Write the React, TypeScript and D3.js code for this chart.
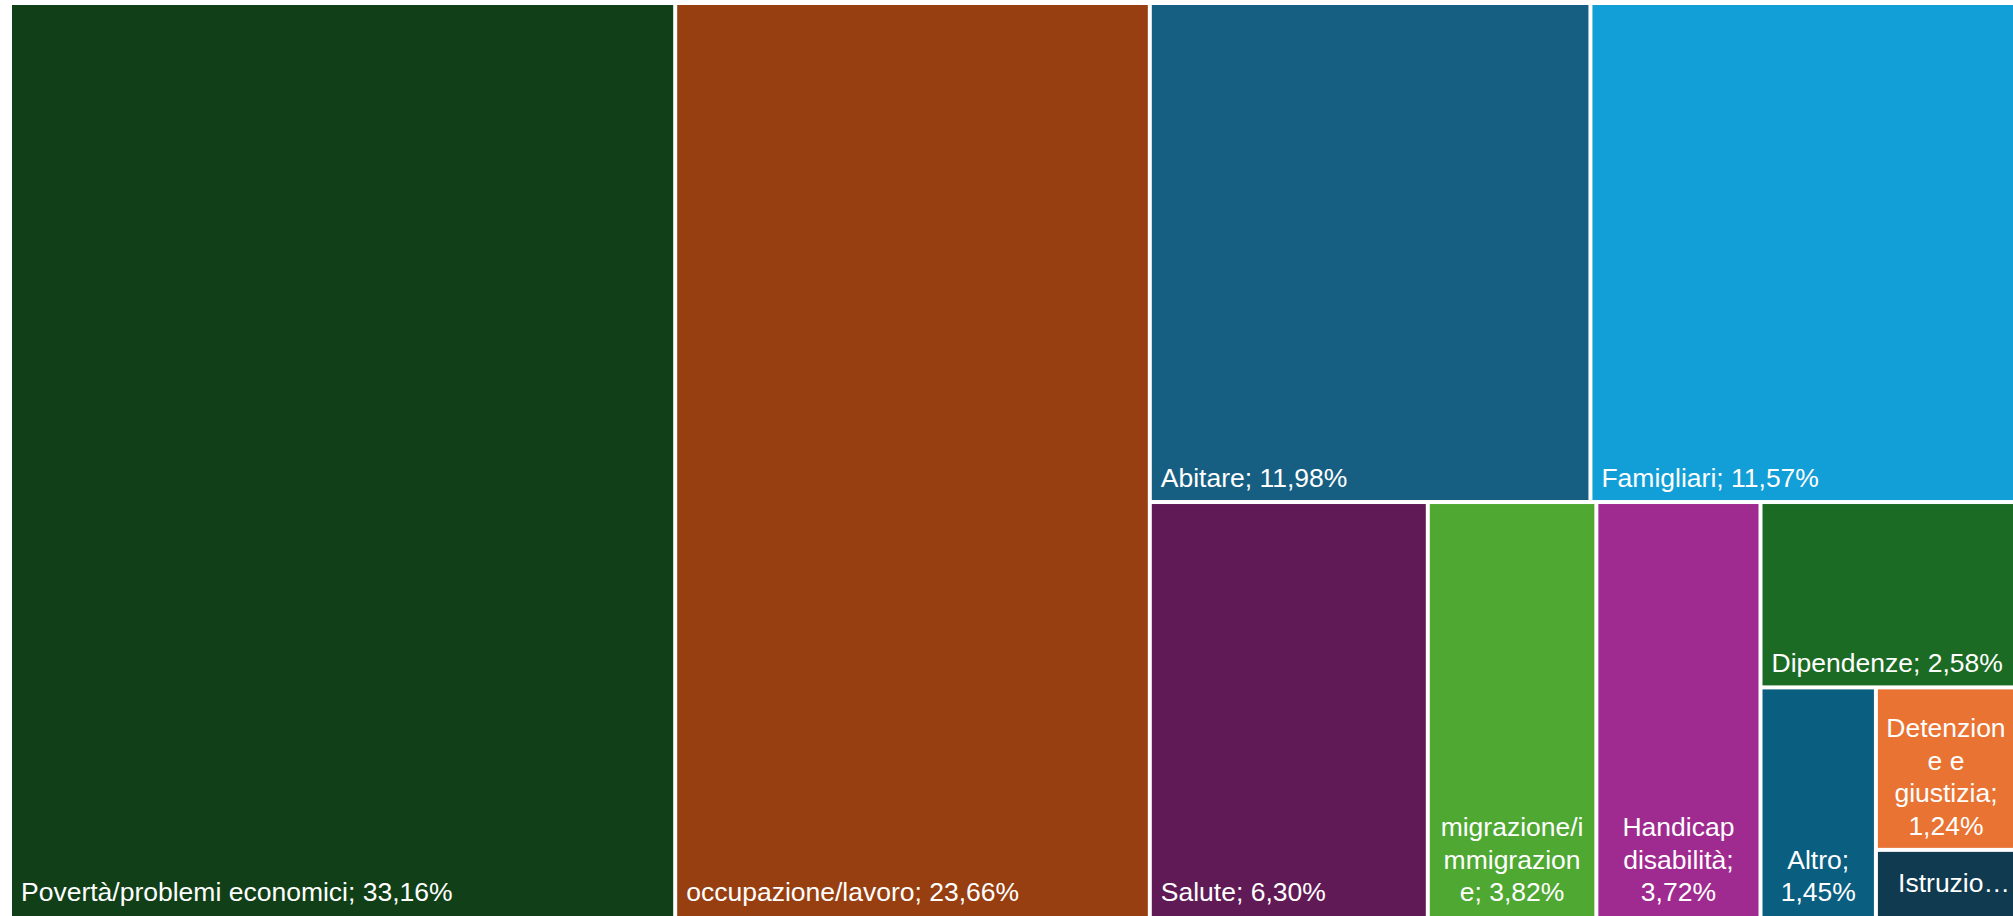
import React, { useMemo } from "react";
import * as d3 from "d3";

// ---- data ----
const categories = [
  "Povertà/problemi economici",
  "occupazione/lavoro",
  "Abitare",
  "Famigliari",
  "Salute",
  "migrazione/immigrazione",
  "Handicap disabilità",
  "Dipendenze",
  "Altro",
  "Detenzione e giustizia",
  "Istruzione",
];
const shares = [33.16, 23.66, 11.98, 11.57, 6.3, 3.82, 3.72, 2.58, 1.45, 1.24, 0.52];
const colors = [
  "#113f17",
  "#973f11",
  "#175f82",
  "#129ed6",
  "#601a55",
  "#4ea832",
  "#a02b90",
  "#1c6b24",
  "#0a5e80",
  "#e87333",
  "#0f3a4f",
];
// how many consecutive items share one strip in the tiling
const stripGroups = [1, 1, 2, 1, 1, 1, 1, 1, 1, 1];

const WIDTH = 2013;
const HEIGHT = 916;
const OX = 10;
const OY = 3;
const TW = 2006;
const TH = 915;
const FONT_SIZE = 26.5;
const LINE_H = 32.5;
const FONT = `${FONT_SIZE}px 'Liberation Sans', Arial, sans-serif`;

function stripTile(parent: any, x0: number, y0: number, x1: number, y1: number) {
  const nodes = parent.children;
  let remaining = nodes.reduce((s: number, n: any) => s + n.value, 0);
  let i = 0;
  for (const g of stripGroups) {
    if (i >= nodes.length) break;
    const group = nodes.slice(i, i + g);
    const gv = group.reduce((s: number, n: any) => s + n.value, 0);
    const w = x1 - x0;
    const h = y1 - y0;
    const fake = { children: group, value: gv };
    if (w >= h) {
      const cw = (w * gv) / remaining;
      d3.treemapSlice(fake as any, x0, y0, x0 + cw, y1);
      x0 += cw;
    } else {
      const ch = (h * gv) / remaining;
      d3.treemapDice(fake as any, x0, y0, x1, y0 + ch);
      y0 += ch;
    }
    remaining -= gv;
    i += g;
  }
}

let ctx: CanvasRenderingContext2D | null = null;
function measure(t: string): number {
  if (!ctx) {
    const c = document.createElement("canvas");
    ctx = c.getContext("2d");
  }
  ctx!.font = FONT;
  return ctx!.measureText(t).width;
}

function wrap(text: string, maxW: number): string[] {
  const words = text.split(" ");
  const lines: string[] = [];
  let cur = "";
  for (const word of words) {
    const cand = cur ? cur + " " + word : word;
    if (measure(cand) <= maxW) {
      cur = cand;
      continue;
    }
    if (cur) lines.push(cur);
    cur = "";
    if (measure(word) <= maxW) {
      cur = word;
    } else {
      for (const ch of word) {
        if (measure(cur + ch) <= maxW) cur += ch;
        else {
          lines.push(cur);
          cur = ch;
        }
      }
    }
  }
  if (cur) lines.push(cur);
  return lines;
}

function truncate(text: string, maxW: number): string {
  let t = text;
  while (t.length > 0 && measure(t + "…") > maxW) t = t.slice(0, -1);
  return t + "…";
}

export default function App() {
  const leaves = useMemo(() => {
    const data = {
      name: "root",
      children: categories.map((c, i) => ({ name: c, value: shares[i], color: colors[i] })),
    };
    const root = d3.hierarchy<any>(data).sum((d: any) => d.value || 0);
    d3.treemap<any>().tile(stripTile as any).size([TW, TH]).round(false)(root);
    return root.leaves() as any[];
  }, []);

  return (
    <div style={{ position: "fixed", left: 0, top: 0, width: WIDTH, height: HEIGHT, overflow: "hidden", background: "#fff" }}>
      <svg width={WIDTH} height={HEIGHT} style={{ display: "block" }}>
        <g transform={`translate(${OX},${OY})`}>
          {leaves.map((n, i) => {
            const x0 = n.x0, y0 = n.y0, x1 = n.x1, y1 = n.y1;
            const w = x1 - x0, h = y1 - y0;
            const label = `${n.data.name}; ${n.data.value.toFixed(2).replace(".", ",")}%`;
            const maxW = w - 19;
            const lines = wrap(label, maxW);
            const base = Math.min(y1, TH - 2) - 15;
            let textEl: React.ReactNode;
            if (lines.length * LINE_H + 15 > h) {
              textEl = (
                <text x={x1 - 6} y={(y0 + Math.min(y1, TH - 2)) / 2 + 9.5} textAnchor="end" fill="#fff" style={{ font: FONT }}>
                  {truncate(label, maxW)}
                </text>
              );
            } else if (lines.length === 1) {
              textEl = (
                <text x={x0 + 11} y={base} fill="#fff" style={{ font: FONT }}>
                  {lines[0]}
                </text>
              );
            } else {
              const cx = (x0 + x1) / 2;
              textEl = (
                <text textAnchor="middle" fill="#fff" style={{ font: FONT }}>
                  {lines.map((l, k) => (
                    <tspan key={k} x={cx} y={base - (lines.length - 1 - k) * LINE_H}>
                      {l}
                    </tspan>
                  ))}
                </text>
              );
            }
            return (
              <g key={i}>
                <rect x={x0 + 2} y={y0 + 2} width={Math.max(0, w - 4)} height={Math.max(0, h - 4)} fill={n.data.color} />
                {textEl}
              </g>
            );
          })}
        </g>
      </svg>
    </div>
  );
}
